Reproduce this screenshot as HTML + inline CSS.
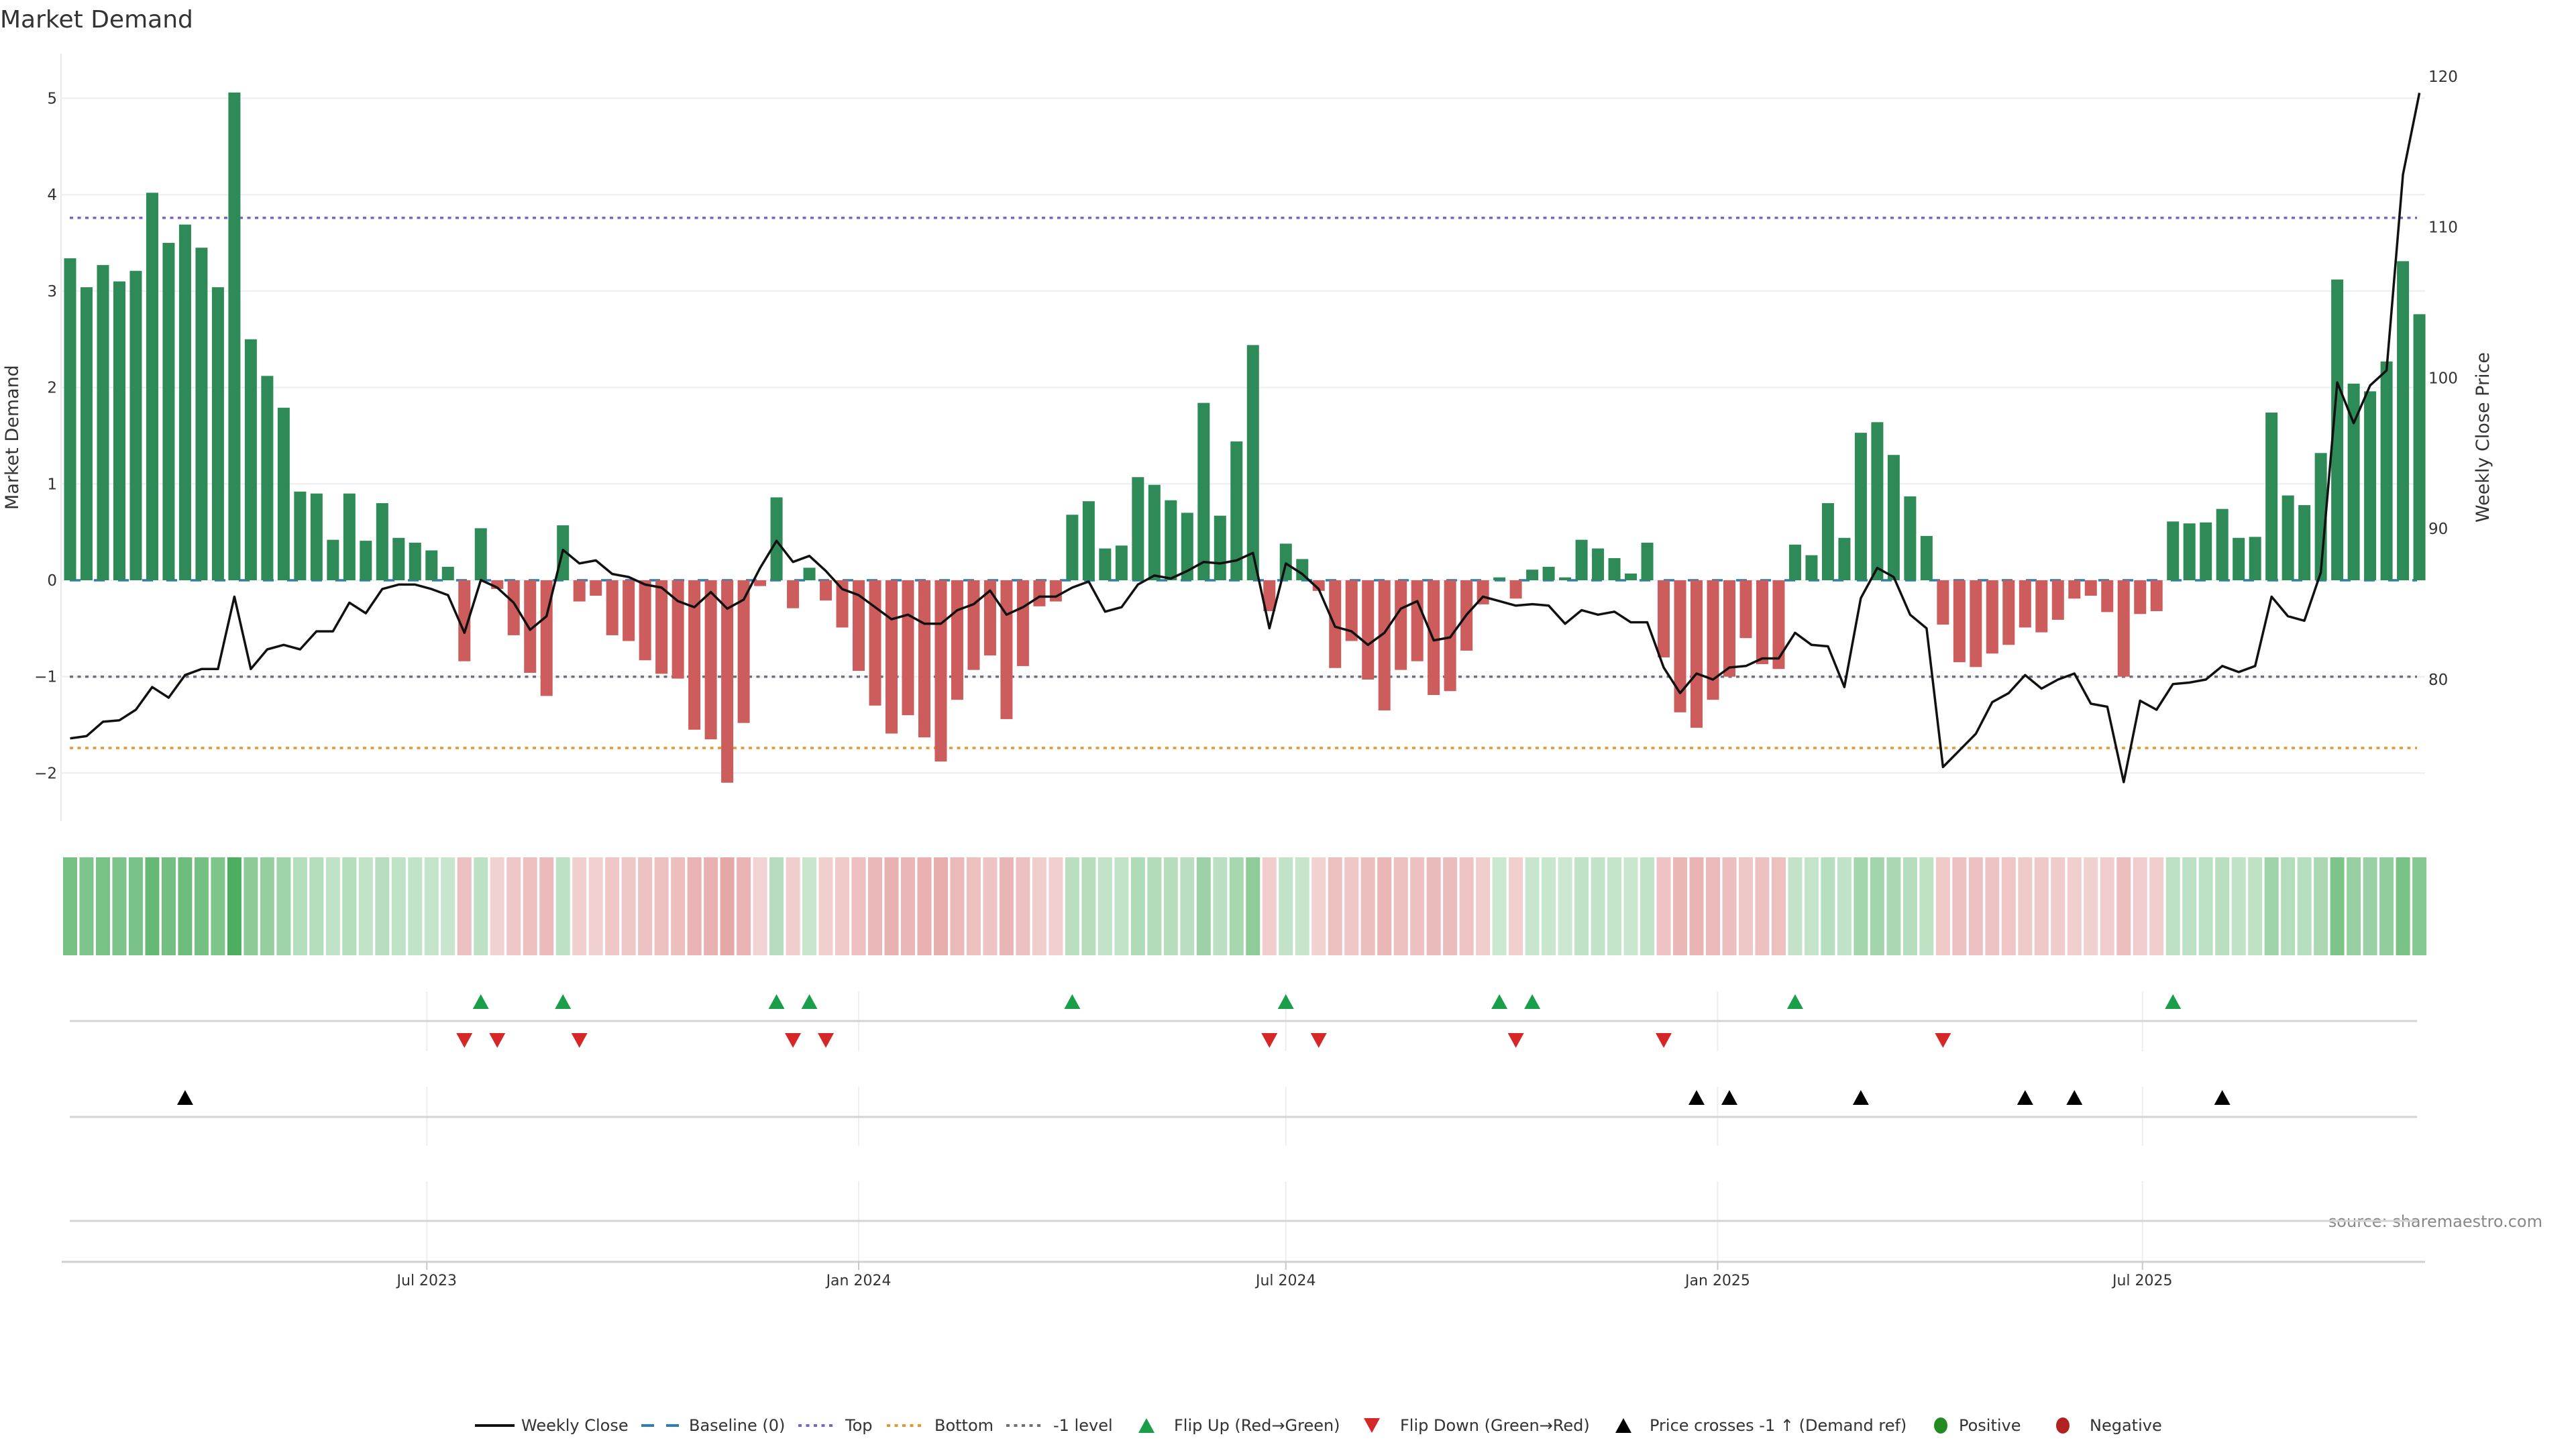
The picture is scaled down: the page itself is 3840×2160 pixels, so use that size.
<!DOCTYPE html>
<html><head><meta charset="utf-8">
<style>
html,body{margin:0;padding:0;background:#fff;}
svg{display:block;font-family:"DejaVu Sans","Liberation Sans",sans-serif;}
</style></head>
<body>
<svg id="chart" xmlns="http://www.w3.org/2000/svg" width="3840" height="2160" viewBox="0 0 3840 2160">
<rect x="0" y="0" width="3840" height="2160" fill="#ffffff"/>
<text x="0" y="41" font-size="36" fill="#333">Market Demand</text>
<text transform="translate(27,652) rotate(-90)" text-anchor="middle" font-size="27" fill="#333">Market Demand</text>
<text transform="translate(3710,652) rotate(-90)" text-anchor="middle" font-size="27" fill="#333">Weekly Close Price</text>
<text x="3790" y="1829" text-anchor="end" font-size="24" fill="#888">source: sharemaestro.com</text>
<g id="grid"></g><g id="refs"></g><g id="bars"></g><g id="line"></g><g id="heat"></g><g id="rows"></g><g id="axes"></g>
<g id="legend"></g>
</svg>
<script>
const demand = [3.34,3.04,3.27,3.10,3.21,4.02,3.50,3.69,3.45,3.04,
5.06,2.50,2.12,1.79,0.92,0.90,0.42,0.90,0.41,0.80,
0.44,0.39,0.31,0.14,-0.84,0.54,-0.09,-0.57,-0.96,-1.20,
0.57,-0.22,-0.16,-0.57,-0.63,-0.83,-0.97,-1.02,-1.55,-1.65,
-2.10,-1.48,-0.06,0.86,-0.29,0.13,-0.21,-0.49,-0.94,-1.30,
-1.59,-1.40,-1.63,-1.88,-1.24,-0.93,-0.78,-1.44,-0.89,-0.27,
-0.22,0.68,0.82,0.33,0.36,1.07,0.99,0.83,0.70,1.84,
0.67,1.44,2.44,-0.32,0.38,0.22,-0.11,-0.91,-0.63,-1.03,
-1.35,-0.93,-0.84,-1.19,-1.15,-0.73,-0.25,0.03,-0.19,0.11,
0.14,0.03,0.42,0.33,0.23,0.07,0.39,-0.80,-1.37,-1.53,
-1.24,-1.00,-0.60,-0.87,-0.92,0.37,0.26,0.80,0.44,1.53,
1.64,1.30,0.87,0.46,-0.46,-0.85,-0.90,-0.76,-0.67,-0.49,
-0.54,-0.41,-0.19,-0.16,-0.33,-1.00,-0.35,-0.32,0.61,0.59,
0.60,0.74,0.44,0.45,1.74,0.88,0.78,1.32,3.12,2.04,
1.96,2.27,3.31,2.76];
const price = [76.1,76.25,77.2,77.3,78.0,79.5,78.8,80.3,80.7,80.7,
85.5,80.7,82.0,82.3,82.0,83.2,83.2,85.1,84.4,86.0,
86.3,86.3,86.0,85.6,83.1,86.6,86.1,85.1,83.3,84.2,
88.6,87.7,87.9,87.0,86.8,86.3,86.1,85.2,84.8,85.8,
84.7,85.3,87.4,89.2,87.8,88.2,87.2,86.0,85.6,84.8,
84.0,84.3,83.7,83.7,84.6,85.0,85.9,84.3,84.8,85.5,
85.5,86.1,86.5,84.5,84.8,86.3,86.9,86.7,87.2,87.8,
87.7,87.9,88.4,83.4,87.7,87.0,86.0,83.5,83.2,82.3,
83.1,84.7,85.2,82.6,82.8,84.3,85.5,85.2,84.9,85.0,
84.9,83.7,84.6,84.3,84.5,83.8,83.8,80.8,79.1,80.4,
80.0,80.8,80.9,81.4,81.4,83.1,82.3,82.2,79.5,85.4,
87.4,86.8,84.3,83.4,74.2,75.3,76.4,78.5,79.1,80.3,
79.4,80.0,80.4,78.4,78.2,73.2,78.6,78.0,79.7,79.8,
80.0,80.9,80.5,80.9,85.5,84.2,83.9,87.1,99.7,97.0,
99.5,100.5,113.5,118.9];
const leftTicks = [-2,-1,0,1,2,3,4,5];
const leftTickLabels = ["\u22122","\u22121","0","1","2","3","4","5"];
const rightTicks = [80,90,100,110,120];
const dateTicks = ["2023-07-01","2024-01-01","2024-07-01","2025-01-01","2025-07-01"];
const dateTickLabels = ["Jul 2023","Jan 2024","Jul 2024","Jan 2025","Jul 2025"];
const topLevel = 3.76;
const bottomLevel = -1.74;
const minusLevel = -1;
const startDate = "2023-01-30";

const NS="http://www.w3.org/2000/svg";
function mk(tag,parent,attrs){const e=document.createElementNS(NS,tag);for(const k in attrs)e.setAttribute(k,attrs[k]);parent.appendChild(e);return e;}
const X0=104.5, STEP=24.49;
const xIdx=i=>X0+i*STEP;
const t0=Date.parse(startDate+"T00:00:00Z");
const xDate=d=>X0+(Date.parse(d+"T00:00:00Z")-t0)/86400000/7*STEP;
const Y0=865, UNIT=143.7;
const yD=v=>Y0-v*UNIT;
const yP=p=>1013-(p-80)*22.48;
const pFromY=y=>80+(1013-y)/22.48;
const N=demand.length;

const grid=document.getElementById('grid');
let e=mk('line',grid,{x1:91,y1:80,x2:91,y2:1224,stroke:'#e6e8ec','stroke-width':2});


leftTicks.forEach((v,i)=>{
  let g=mk('line',grid,{x1:91,y1:yD(v),x2:3615,y2:yD(v),stroke:'#eef0f3','stroke-width':2.5});
  
  
  let t=mk('text',grid,{x:85,y:yD(v)+8,'text-anchor':'end','font-size':23,fill:'#333'});
  t.textContent=leftTickLabels[i];
  
  
});
rightTicks.forEach(p=>{
  let t=mk('text',grid,{x:3620,y:yP(p)+8,'font-size':23,fill:'#333'});
  t.textContent=String(p);
  
  
});

const refs=document.getElementById('refs');
function refLine(v,color,dash,name){
  let l=mk('line',refs,{x1:104,y1:yD(v),x2:3603,y2:yD(v),stroke:color,'stroke-width':3.5,'stroke-dasharray':dash});
  
  
}
refLine(topLevel,'#7a63d0','5 6.5','top-line');
refLine(bottomLevel,'#e8952e','5 6.5','bottom-line');
refLine(minusLevel,'#6e717c','5 6.5','minus-one-level-line');

const bars=document.getElementById('bars');
demand.forEach((v,i)=>{
  const y=v>=0?yD(v):yD(0), h=Math.abs(yD(v)-yD(0));
  let r=mk('rect',bars,{x:xIdx(i)-9,y:y,width:18,height:Math.max(h,0.5),fill:v>=0?'#2e8b57':'#cd5c5c'});
  
  
});
let bl=mk('line',refs,{x1:104,y1:yD(0),x2:3603,y2:yD(0),stroke:'#2f7db3','stroke-width':3.5,'stroke-dasharray':'16 20'});


const lineG=document.getElementById('line');
let pts=price.map((p,i)=>xIdx(i).toFixed(1)+','+yP(p).toFixed(1)).join(' ');
let pl=mk('polyline',lineG,{points:pts,fill:'none',stroke:'#111','stroke-width':3.5,'stroke-linejoin':'round'});



const heat=document.getElementById('heat');
demand.forEach((v,i)=>{
  const a=0.25+0.6*Math.min(Math.abs(v),5)/5;
  let r=mk('rect',heat,{x:xIdx(i)-10.5,y:1278,width:21,height:146,fill:v>=0?'#2ea043':'#cd5050','fill-opacity':a.toFixed(3)});
  
  
});

const rows=document.getElementById('rows');
dateTicks.forEach(d=>{
  [[1478,1567],[1620,1708],[1761,1880]].forEach(s=>{
    let l=mk('line',rows,{x1:xDate(d),y1:s[0],x2:xDate(d),y2:s[1],stroke:'#eceef2','stroke-width':2});
    
    
  });
});
[1522,1665,1820].forEach(y=>{
  let l=mk('line',rows,{x1:104,y1:y,x2:3603,y2:y,stroke:'#d4d4d4','stroke-width':3});
  
  
});
function tri(x,y,up,color,name){
  const p=up?`${x-12},${y+11} ${x+12},${y+11} ${x},${y-11}`:`${x-12},${y-11} ${x+12},${y-11} ${x},${y+11}`;
  let t=mk('polygon',rows,{points:p,fill:color});
  
  
}
const crossLevel=pFromY(yD(minusLevel));
for(let i=1;i<N;i++){
  if(demand[i-1]<0&&demand[i]>=0) tri(xIdx(i),1493,true,'#1a9e4a','flip-up-marker');
  if(demand[i-1]>=0&&demand[i]<0) tri(xIdx(i),1551,false,'#d62728','flip-down-marker');
  if(price[i-1]<crossLevel&&price[i]>=crossLevel) tri(xIdx(i),1636,true,'#000','price-cross-marker');
}

const axes=document.getElementById('axes');
let ax=mk('line',axes,{x1:92,y1:1881,x2:3615,y2:1881,stroke:'#d0d0d0','stroke-width':3});


dateTicks.forEach((d,i)=>{
  let tk=mk('line',axes,{x1:xDate(d),y1:1881,x2:xDate(d),y2:1893,stroke:'#c8c8c8','stroke-width':2});
  
  
  let t=mk('text',axes,{x:xDate(d),y:1916,'text-anchor':'middle','font-size':22,fill:'#333'});
  t.textContent=dateTickLabels[i];
  
  
});

const lg=document.getElementById('legend');
const LY=2125;
function ltext(x,s,name){let t=mk('text',lg,{x:x,y:LY+8,'font-size':24,fill:'#333'});t.textContent=s;}
let l1=mk('line',lg,{x1:708,y1:LY,x2:767,y2:LY,stroke:'#111','stroke-width':4});


ltext(777,'Weekly Close','legend-weekly-close');
let l2=mk('line',lg,{x1:956,y1:LY,x2:1012,y2:LY,stroke:'#2f7db3','stroke-width':4,'stroke-dasharray':'19 18'});


ltext(1027,'Baseline (0)','legend-baseline');
let l3=mk('line',lg,{x1:1190,y1:LY,x2:1247,y2:LY,stroke:'#7a63d0','stroke-width':4,'stroke-dasharray':'5 6.5'});


ltext(1260,'Top','legend-top');
let l4=mk('line',lg,{x1:1322,y1:LY,x2:1379,y2:LY,stroke:'#e8952e','stroke-width':4,'stroke-dasharray':'5 6.5'});


ltext(1393,'Bottom','legend-bottom');
let l5=mk('line',lg,{x1:1500,y1:LY,x2:1557,y2:LY,stroke:'#6e717c','stroke-width':4,'stroke-dasharray':'5 6.5'});


ltext(1570,'-1 level','legend-minus-one-level');
let p1=mk('polygon',lg,{points:'1697,2136 1721,2136 1709,2114',fill:'#1a9e4a'});


ltext(1750,'Flip Up (Red\u2192Green)','legend-flip-up');
let p2=mk('polygon',lg,{points:'2033,2114 2057,2114 2045,2136',fill:'#d62728'});


ltext(2087,'Flip Down (Green\u2192Red)','legend-flip-down');
let p3=mk('polygon',lg,{points:'2408,2136 2432,2136 2420,2114',fill:'#000'});


ltext(2459,'Price crosses -1 \u2191 (Demand ref)','legend-price-cross');
let c1=mk('ellipse',lg,{cx:2893,cy:LY,rx:10,ry:12,fill:'#228b22'});


ltext(2920,'Positive','legend-positive');
let c2=mk('ellipse',lg,{cx:3075,cy:LY,rx:10,ry:12,fill:'#b22222'});


ltext(3115,'Negative','legend-negative');
</script>
</body></html>
